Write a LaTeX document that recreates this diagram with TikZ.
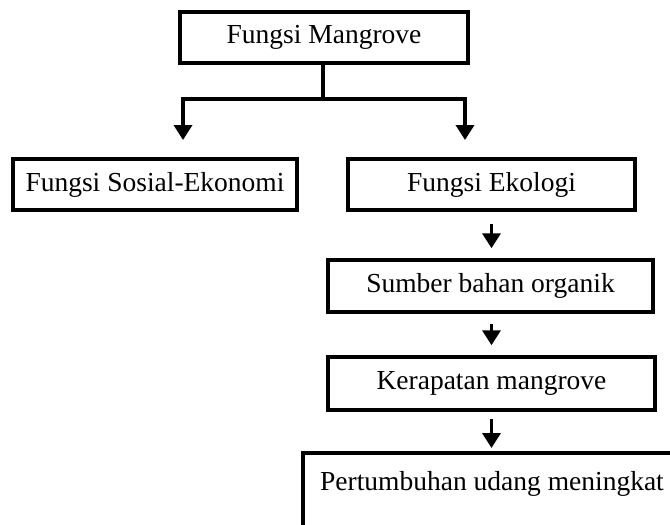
\documentclass[tikz,border=0pt]{standalone}
\usepackage{fontspec}
\setmainfont{Liberation Serif}
\usetikzlibrary{arrows.meta}
\begin{document}
\begin{tikzpicture}[x=1pt,y=-1pt,
  box/.style={draw=black,line width=3.5pt,inner sep=0pt,font=\fontsize{27.5}{30}\selectfont},
  conn/.style={line width=3.5pt,-{Triangle[width=18pt,length=15pt]}},
  plain/.style={line width=3.5pt}]
\useasboundingbox[fill=white] (0,0) rectangle (670,525);
\node[box,minimum width=288pt,minimum height=51pt] (fm) at (324,37.5) {Fungsi Mangrove};
\node[box,minimum width=284pt,minimum height=51pt] (se) at (155,184.5) {Fungsi Sosial-Ekonomi};
\node[box,minimum width=287pt,minimum height=51pt] (ek) at (491.5,184.5) {Fungsi Ekologi};
\node[box,minimum width=325pt,minimum height=52pt] (sb) at (490.5,286) {Sumber bahan organik};
\node[box,minimum width=327pt,minimum height=53pt] (kp) at (491.5,383.5) {Kerapatan mangrove};
\node[font=\fontsize{27.5}{30}\selectfont,inner sep=0pt] (pu) at (492,484) {Pertumbuhan udang meningkat};
\coordinate (split) at (323,99);
\coordinate (jl) at (183,99);
\coordinate (jr) at (465,99);
\coordinate (tl) at (183,140);
\coordinate (tr) at (465,140);
\coordinate (ptl) at (303,453);
\coordinate (ptr) at (672,453);
\coordinate (pbl) at (303,527);
\draw[plain] (fm.south -| split) -- (split);
\draw[plain,line cap=rect] (jl) -- (jr);
\draw[conn] (jl) -- (tl);
\draw[conn] (jr) -- (tr);
\draw[conn,shorten <=12pt,shorten >=10pt] (ek.south) -- (sb.north -| ek.south);
\draw[conn,shorten <=10pt,shorten >=10pt] (sb.south -| ek.south) -- (kp.north -| ek.south);
\draw[conn,shorten <=7pt,shorten >=5pt] (kp.south) -- (ptl -| kp.south);
\draw[plain] (ptr) -- (ptl) -- (pbl);
\end{tikzpicture}
\end{document}
